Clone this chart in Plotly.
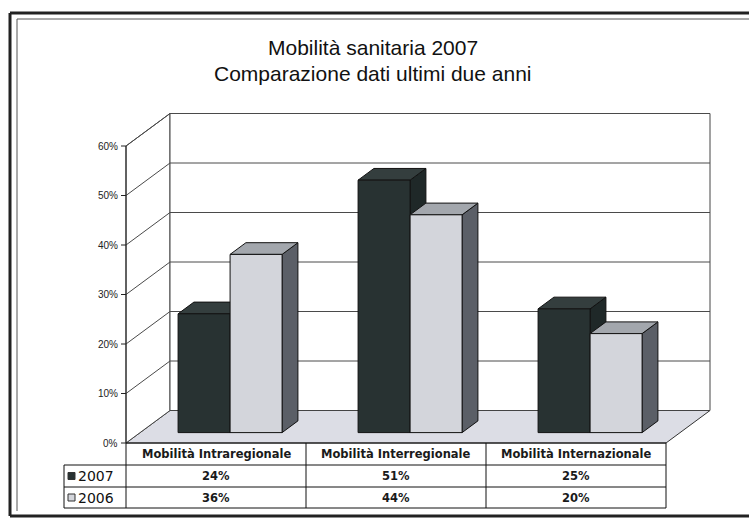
import plotly.graph_objects as go

# ---------------- data ----------------
categories = ["Mobilità Intraregionale", "Mobilità Interregionale", "Mobilità Internazionale"]
series_names = ["2007", "2006"]
values_2007 = [24, 51, 25]
values_2006 = [36, 44, 20]
value_ticks = [0, 10, 20, 30, 40, 50, 60]
tick_labels = ["0%", "10%", "20%", "30%", "40%", "50%", "60%"]
title_line1 = "Mobilità sanitaria 2007"
title_line2 = "Comparazione dati ultimi due anni"

# ---------------- geometry / style ----------------
W, H = 749, 518
AX_PX = 126.0      # front value axis x (px)
CAT_PX = 180.0     # px per category
ZERO_PX = 443.0    # 0% on front axis (px)
PCT_PX = 4.95      # px per percent

def fx(px):
    return (px - AX_PX) / CAT_PX

def fy(py):
    return (ZERO_PX - py) / PCT_PX

DX = 44.0 / CAT_PX          # depth offset in category units
DY = 32.5 / PCT_PX          # depth offset in percent units
F_D, B_D = 0.32, 0.68       # bar front/back depth fractions
BAR_W = 52.0 / CAT_PX
BAR_OFF = 38.0 / CAT_PX
NCAT = len(categories)
VMAX = value_ticks[-1]

face = {"2007": "#283232", "2006": "#d3d5db"}
top = {"2007": "#343e3e", "2006": "#a3a7ad"}
side = {"2007": "#1f2828", "2006": "#5b5f67"}
FLOOR = "#dcdde5"
GRID = "#4a4a4a"

fig = go.Figure()
shapes = []

def path(pts):
    return "M " + " L ".join(f"{x},{y}" for x, y in pts) + " Z"

# floor
shapes.append(dict(type="path", xref="x", yref="y", layer="below",
                   path=path([(0, 0), (NCAT, 0), (NCAT + DX, DY), (DX, DY)]),
                   fillcolor=FLOOR, line=dict(color="#333333", width=1)))
# left wall
shapes.append(dict(type="path", xref="x", yref="y", layer="below",
                   path=path([(0, 0), (DX, DY), (DX, VMAX + DY), (0, VMAX)]),
                   fillcolor="white", line=dict(color="#444444", width=1)))
# back wall
shapes.append(dict(type="path", xref="x", yref="y", layer="below",
                   path=path([(DX, DY), (NCAT + DX, DY), (NCAT + DX, VMAX + DY), (DX, VMAX + DY)]),
                   fillcolor="white", line=dict(color="#444444", width=1)))
# gridlines
for v in value_ticks[1:]:
    shapes.append(dict(type="line", xref="x", yref="y", layer="below",
                       x0=0, y0=v, x1=DX, y1=v + DY, line=dict(color=GRID, width=1)))
    shapes.append(dict(type="line", xref="x", yref="y", layer="below",
                       x0=DX, y0=v + DY, x1=NCAT + DX, y1=v + DY, line=dict(color=GRID, width=1)))
# front axis + ticks
shapes.append(dict(type="line", xref="x", yref="y", x0=0, y0=0, x1=0, y1=VMAX,
                   line=dict(color="#222222", width=1)))
for v in value_ticks:
    shapes.append(dict(type="line", xref="x", yref="y", x0=fx(AX_PX - 5), y0=v, x1=0, y1=v,
                       line=dict(color="#222222", width=1)))

# ---------------- frame (separate segments, running off the right edge) ----------------
def seg(p0, p1, width, color):
    fig.add_trace(go.Scatter(x=[fx(p0[0]), fx(p1[0])], y=[fy(p0[1]), fy(p1[1])],
                             mode="lines", line=dict(color=color, width=width),
                             hoverinfo="skip", showlegend=False))

seg((10, 13), (10, 516), 3, "#222222")
seg((10, 13), (W, 13), 3, "#222222")
seg((10, 516), (W, 516), 3, "#222222")
seg((17, 19), (17, 511), 1, "#555555")
seg((17, 19), (W, 19), 1, "#555555")

# ---------------- bars ----------------
def add_poly(pts, color):
    xs = [p[0] for p in pts] + [pts[0][0]]
    ys = [p[1] for p in pts] + [pts[0][1]]
    fig.add_trace(go.Scatter(x=xs, y=ys, mode="lines", fill="toself", fillcolor=color,
                             line=dict(color="#111111", width=1), hoverinfo="skip",
                             showlegend=False))

series_vals = {"2007": values_2007, "2006": values_2006}
for i in range(NCAT):
    for s_idx, s in enumerate(series_names):
        v = series_vals[s][i]
        x0 = i + BAR_OFF + s_idx * BAR_W
        x1 = x0 + BAR_W
        fxo, fyo = F_D * DX, F_D * DY
        bxo, byo = B_D * DX, B_D * DY
        add_poly([(x1 + fxo, fyo), (x1 + bxo, byo), (x1 + bxo, v + byo), (x1 + fxo, v + fyo)], side[s])
        add_poly([(x0 + fxo, v + fyo), (x1 + fxo, v + fyo), (x1 + bxo, v + byo), (x0 + bxo, v + byo)], top[s])
        add_poly([(x0 + fxo, fyo), (x1 + fxo, fyo), (x1 + fxo, v + fyo), (x0 + fxo, v + fyo)], face[s])

annotations = []
# value axis labels
for v, lab in zip(value_ticks, tick_labels):
    annotations.append(dict(x=fx(AX_PX - 6), y=v, xref="x", yref="y", text=lab, showarrow=False,
                            xanchor="right", yanchor="middle",
                            font=dict(family="Liberation Sans, Arial", size=10, color="#222222")))

# ---------------- data table ----------------
row_px = [ZERO_PX, 465, 487, 508]
leg_px = 64
row_y = [fy(p) for p in row_px]
tl = dict(color="#111111", width=1)
shapes.append(dict(type="line", xref="x", yref="y", x0=0, y0=row_y[0], x1=NCAT, y1=row_y[0], line=tl))
for ry in row_y[1:]:
    shapes.append(dict(type="line", xref="x", yref="y", x0=fx(leg_px), y0=ry, x1=NCAT, y1=ry, line=tl))
for c in range(NCAT + 1):
    shapes.append(dict(type="line", xref="x", yref="y", x0=c, y0=row_y[0], x1=c, y1=row_y[3], line=tl))
shapes.append(dict(type="line", xref="x", yref="y", x0=fx(leg_px), y0=row_y[1], x1=fx(leg_px), y1=row_y[3], line=tl))

tfont = dict(family="DejaVu Sans, Verdana", size=11.5, color="#1a1a1a", weight="bold")
for i, cat in enumerate(categories):
    annotations.append(dict(x=i + 0.5, y=(row_y[0] + row_y[1]) / 2, xref="x", yref="y", text=cat,
                            showarrow=False, font=tfont))
for r, s in enumerate(series_names):
    yc = (row_y[r + 1] + row_y[r + 2]) / 2
    for i in range(NCAT):
        annotations.append(dict(x=i + 0.5, y=yc, xref="x", yref="y",
                                text=f"{series_vals[s][i]}%", showarrow=False, font=tfont))
    kx0, kx1 = fx(leg_px + 4), fx(leg_px + 11)
    shapes.append(dict(type="rect", xref="x", yref="y", x0=kx0, x1=kx1,
                       y0=yc - 3.5 / PCT_PX, y1=yc + 3.5 / PCT_PX,
                       fillcolor=face[s], line=dict(color="#333333", width=1)))
    annotations.append(dict(x=fx(leg_px + 12), y=yc, xref="x", yref="y", text=s, showarrow=False,
                            xanchor="left", font=dict(family="DejaVu Sans, Verdana", size=14, color="#111111")))

# ---------------- title ----------------
annotations.append(dict(x=373 / W, y=1 - 47.5 / H, xref="paper", yref="paper", text=title_line1,
                        showarrow=False, yanchor="middle",
                        font=dict(family="Liberation Sans, Arial", size=21, color="#111111")))
annotations.append(dict(x=373 / W, y=1 - 73.5 / H, xref="paper", yref="paper", text=title_line2,
                        showarrow=False, yanchor="middle",
                        font=dict(family="Liberation Sans, Arial", size=21, color="#111111")))

fig.update_layout(
    width=W, height=H, margin=dict(l=0, r=0, t=0, b=0),
    paper_bgcolor="white", plot_bgcolor="white",
    xaxis=dict(range=[fx(0), fx(W)], visible=False, fixedrange=True),
    yaxis=dict(range=[fy(H), fy(0)], visible=False, fixedrange=True),
    shapes=shapes, annotations=annotations, showlegend=False,
)

fig.write_html("out.html")
